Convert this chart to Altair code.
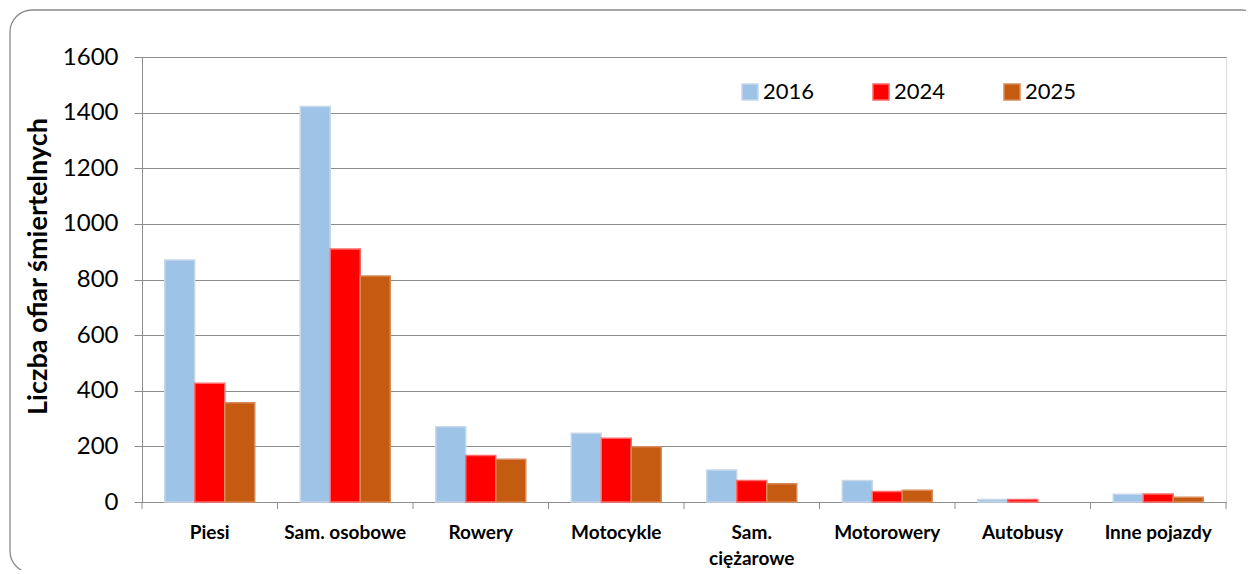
import altair as alt
import pandas as pd

categories = ["Piesi", "Sam. osobowe", "Rowery", "Motocykle", "Sam. ciężarowe",
              "Motorowery", "Autobusy", "Inne pojazdy"]
years = ["2016", "2024", "2025"]
v2016 = [870, 1422, 271, 247, 115, 77, 9, 28]
v2024 = [427, 910, 167, 229, 77, 38, 9, 29]
v2025 = [357, 813, 154, 199, 66, 42, 0, 17]
y_ticks = [0, 200, 400, 600, 800, 1000, 1200, 1400, 1600]
fill_colors = ["#9DC3E6", "#FF0000", "#C55A11"]
stroke_colors = ["#C8D8EA", "#FF6A6A", "#D98A5A"]

rows = []
for vals, yr in zip([v2016, v2024, v2025], years):
    for c, v in zip(categories, vals):
        rows.append({"cat": c, "year": yr, "value": v})
df = pd.DataFrame(rows)
ticks_df = pd.DataFrame({"cat": categories})
last_df = pd.DataFrame({"cat": [categories[-1]]})

GRAY = "#8C8C8C"
FONT = "Lato"
W, H = 1084, 445

xscale = alt.Scale(paddingInner=0, paddingOuter=0)

bars = alt.Chart(df).transform_filter("datum.value > 0").mark_bar(strokeWidth=1.5).encode(
    x=alt.X("cat:N", sort=categories, scale=xscale, title=None,
            axis=alt.Axis(labelAngle=0, ticks=False, domainColor=GRAY,
                          labelFontWeight="bold", labelFontSize=19, labelFont=FONT,
                          labelColor="black", labelPadding=21, labelLineHeight=26,
                          labelExpr="datum.label == 'Sam. ciężarowe' ? ['Sam.', 'ciężarowe'] : datum.label")),
    xOffset=alt.XOffset("year:N", sort=years,
                        scale=alt.Scale(paddingOuter=0.758, paddingInner=0)),
    y=alt.Y("value:Q", scale=alt.Scale(domain=[0, 1600], nice=False),
            axis=alt.Axis(values=y_ticks, format="d", grid=True, gridColor=GRAY, gridWidth=1,
                          domainColor=GRAY, tickColor=GRAY, tickSize=8,
                          labelFontSize=24, labelFont=FONT, labelColor="black",
                          labelPadding=16, title="Liczba ofiar śmiertelnych",
                          titleFont=FONT, titleFontSize=27, titleFontWeight="bold",
                          titleColor="black", titleAngle=270, titleX=-104, titleY=209,
                          titleAlign="center", titleBaseline="middle")),
    color=alt.Color("year:N", sort=years, scale=alt.Scale(domain=years, range=fill_colors),
                    legend=alt.Legend(title=None, orient="none", legendX=597, legendY=24,
                                      direction="horizontal", symbolType="square",
                                      symbolSize=256, labelFontSize=22, labelFont=FONT,
                                      labelColor="black", columnPadding=55, labelOffset=2,
                                      symbolStrokeWidth=1.5)),
    stroke=alt.Stroke("year:N", sort=years, scale=alt.Scale(domain=years, range=stroke_colors)),
)

ticks = alt.Chart(ticks_df).mark_rule(color=GRAY, strokeWidth=1).encode(
    x=alt.X("cat:N", sort=categories, bandPosition=0, title=None),
    y=alt.value(H), y2=alt.value(H + 7),
)
last_tick = alt.Chart(last_df).mark_rule(color=GRAY, strokeWidth=1).encode(
    x=alt.X("cat:N", sort=categories, bandPosition=1, title=None),
    y=alt.value(H), y2=alt.value(H + 7),
)

border = alt.Chart(alt.Data(values=[{"a": 1}])).mark_rect(
    filled=False, stroke="#8C8C8C", strokeWidth=1.3, cornerRadius=22
).encode(
    x=alt.value(-132), x2=alt.value(1122), y=alt.value(-47), y2=alt.value(516)
)

chart = alt.layer(border, bars, ticks, last_tick).properties(
    width=W, height=H,
    autosize=alt.AutoSizeParams(type="none"),
    padding={"left": 134, "top": 49, "right": 20, "bottom": 68},
).configure_view(stroke=None).configure(background="white")

chart.save("out.html", embed_options={"renderer": "svg", "actions": False})
